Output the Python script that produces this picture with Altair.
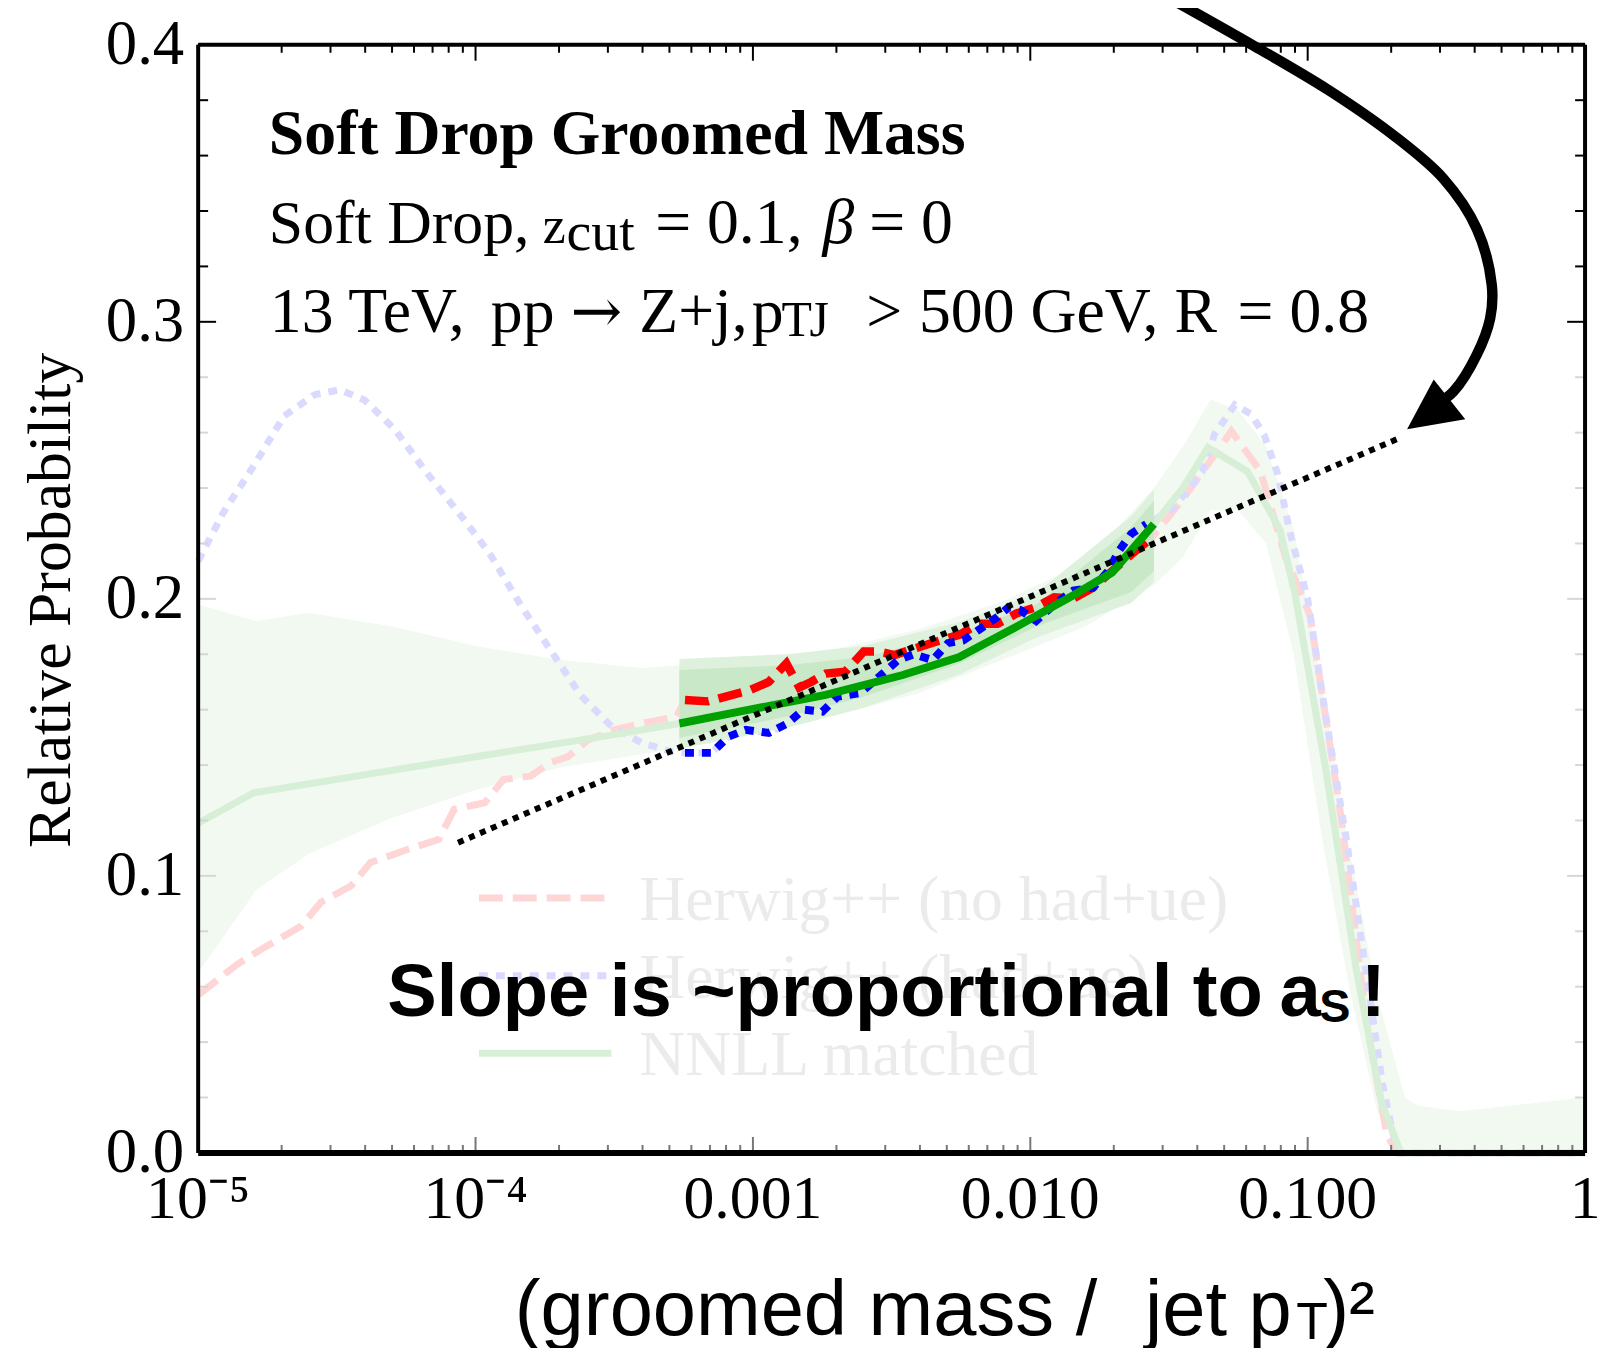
import altair as alt
import pandas as pd

# ---------------- data ----------------
RED_X = [1.0e-5, 1.38e-5, 1.72e-5, 2.36e-5, 2.77e-5, 3.56e-5, 4.18e-5, 5.71e-5, 7.38e-5, 8.37e-5,
         1.08e-4, 1.26e-4, 1.58e-4, 1.85e-4, 2.16e-4, 2.54e-4, 3.16e-4, 3.94e-4, 5.3e-4,
         5.69e-4, 6.89e-4, 9.72e-4, 1.14e-3, 1.32e-3, 1.47e-3, 1.62e-3, 1.83e-3, 2.15e-3, 2.51e-3,
         2.85e-3, 3.24e-3, 3.80e-3, 4.72e-3, 5.55e-3, 6.50e-3, 7.62e-3, 8.91e-3, 1.05e-2, 1.22e-2,
         1.43e-2, 1.68e-2, 1.97e-2, 2.31e-2, 2.74e-2,
         3.55e-2, 4.47e-2, 5.31e-2, 6.76e-2, 8.32e-2, 0.102, 0.132, 0.163, 0.193, 0.210, 1.0]
RED_Y = [0.057, 0.068, 0.074, 0.082, 0.0905, 0.0964, 0.1048, 0.1096, 0.1132, 0.124,
         0.1264, 0.1348, 0.136, 0.1408, 0.1431, 0.149, 0.1527, 0.155, 0.1575,
         0.1635, 0.163, 0.167, 0.170, 0.1767, 0.168, 0.170, 0.173, 0.1737, 0.181,
         0.181, 0.1797, 0.182, 0.185, 0.187, 0.191, 0.191, 0.1947, 0.197, 0.2006,
         0.2001, 0.204, 0.210, 0.216, 0.222,
         0.236, 0.250, 0.2606, 0.246, 0.215, 0.194, 0.121, 0.047, 0.0066, 0.0, 0.0]

BLUE_X = [1.0e-5, 1.23e-5, 1.585e-5, 2.04e-5, 2.63e-5, 3.24e-5, 3.98e-5, 5.13e-5, 6.61e-5, 8.71e-5,
          1.12e-4, 1.45e-4, 1.86e-4, 2.40e-4, 3.09e-4, 3.98e-4, 5.13e-4,
          5.69e-4, 7.10e-4, 8.18e-4, 9.42e-4, 1.14e-3, 1.33e-3, 1.52e-3, 1.78e-3, 2.02e-3, 2.44e-3,
          2.85e-3, 3.34e-3, 3.80e-3, 4.45e-3, 5.05e-3, 5.73e-3, 6.50e-3, 7.62e-3, 8.36e-3, 9.20e-3,
          1.05e-2, 1.22e-2, 1.43e-2, 1.68e-2, 1.91e-2, 2.09e-2, 2.31e-2, 2.62e-2,
          3.24e-2, 4.17e-2, 4.62e-2, 5.46e-2, 6.25e-2, 6.98e-2, 7.80e-2, 8.63e-2, 0.1, 0.116,
          0.138, 0.162, 0.186, 0.207, 0.219, 1.0]
BLUE_Y = [0.2136, 0.231, 0.248, 0.266, 0.2737, 0.2755, 0.2718, 0.261, 0.246, 0.231,
          0.2166, 0.198, 0.1816, 0.165, 0.154, 0.148, 0.1447,
          0.1444, 0.1444, 0.1503, 0.1527, 0.1516, 0.155, 0.160, 0.1593, 0.1647, 0.166,
          0.1719, 0.1779, 0.180, 0.1779, 0.184, 0.185, 0.1887, 0.1935, 0.197, 0.196,
          0.192, 0.198, 0.203, 0.204, 0.210, 0.2174, 0.2234, 0.227,
          0.232, 0.246, 0.2595, 0.270, 0.2667, 0.259, 0.245, 0.224, 0.200, 0.158,
          0.113, 0.066, 0.025, 0.003, 0.0, 0.0]

GREEN_X = [1.0e-5, 1.585e-5, 1.0e-4, 3.16e-4, 5.43e-4, 9.72e-4, 1.83e-3, 3.47e-3, 5.55e-3,
           8.91e-3, 1.43e-2, 1.97e-2, 2.79e-2, 3.55e-2, 4.37e-2, 6.07e-2, 7.94e-2, 8.99e-2,
           0.116, 0.150, 0.185, 0.217, 1.0]
GREEN_Y = [0.119, 0.130, 0.143, 0.151, 0.155, 0.160, 0.1653, 0.1725, 0.179,
           0.1899, 0.2013, 0.2095, 0.227, 0.240, 0.2546, 0.246, 0.225, 0.202,
           0.139, 0.0656, 0.0177, 0.0, 0.0]

# wide (faint) NNLL uncertainty band
BAND_X = [1.0e-5, 1.62e-5, 2.51e-5, 5.01e-5, 1.0e-4, 2.0e-4, 3.98e-4, 5.43e-4, 1.0e-3, 2.0e-3,
          3.98e-3, 7.94e-3, 1.58e-2, 2.79e-2, 3.55e-2, 4.47e-2, 5.62e-2, 7.08e-2, 8.91e-2,
          0.112, 0.141, 0.178, 0.224, 0.251, 0.355, 1.0]
BAND_LO = [0.065, 0.095, 0.108, 0.121, 0.131, 0.139, 0.144, 0.146, 0.152, 0.158,
           0.166, 0.178, 0.190, 0.205, 0.215, 0.232, 0.232, 0.220, 0.180,
           0.115, 0.060, 0.015, 0.0, 0.0, 0.0, 0.0]
BAND_HI = [0.198, 0.192, 0.195, 0.190, 0.183, 0.178, 0.175, 0.176, 0.178, 0.182,
           0.189, 0.199, 0.213, 0.240, 0.255, 0.272, 0.268, 0.255, 0.225,
           0.170, 0.110, 0.057, 0.020, 0.017, 0.015, 0.020]

# highlighted band segment
CORE_X = [5.43e-4, 1.33e-3, 2.51e-3, 5.55e-3, 1.05e-2, 2.31e-2, 2.79e-2]
CORE_LO = [0.1499, 0.1575, 0.1647, 0.1767, 0.190, 0.2025, 0.210]
CORE_HI = [0.1743, 0.176, 0.179, 0.1876, 0.198, 0.2258, 0.2354]

BOLD_LO, BOLD_HI = 5.4e-4, 2.8e-2

FIT_X = [8.65e-5, 0.216]
FIT_Y = [0.112, 0.2582]

ARROW_X = [3.41e-2, 6.43e-2, 0.1178, 0.2046, 0.309, 0.407, 0.461, 0.455, 0.407, 0.336, 0.292]
ARROW_Y = [0.4151, 0.3995, 0.3839, 0.3672, 0.3516, 0.3336, 0.3133, 0.3013, 0.2881, 0.2749, 0.2702]
HEAD_X, HEAD_Y = [0.2887], [0.2684]

XTICK_VALUES = [1e-5, 1e-4, 1e-3, 1e-2, 1e-1, 1.0]
XTICK_LABELS = ["10\u207b\u2075", "10\u207b\u2074", "0.001", "0.010", "0.100", "1"]
YTICK_VALUES = [0.0, 0.1, 0.2, 0.3, 0.4]
YTICK_LABELS = ["0.0", "0.1", "0.2", "0.3", "0.4"]
LEGEND_LABELS = ["Herwig++ (no had+ue)", "Herwig++ (had+ue)", "NNLL matched"]

# ---------------- layout ----------------
W, H = 1393, 1113
SERIF = "Liberation Serif"
SANS = "Liberation Sans"
xs = alt.Scale(type="log", domain=[1e-5, 1])
ys = alt.Scale(domain=[0, 0.4])


def X(f="x"):
    return alt.X(f"{f}:Q", scale=xs, axis=None)


def Y(f="y"):
    return alt.Y(f"{f}:Q", scale=ys, axis=None)


def series(xv, yv):
    return pd.DataFrame({"x": xv, "y": yv})


def bold_part(df):
    return df[(df.x >= BOLD_LO) & (df.x <= BOLD_HI)]


red = series(RED_X, RED_Y)
blue = series(BLUE_X, BLUE_Y)
green = series(GREEN_X, GREEN_Y)

band = alt.Chart(pd.DataFrame({"x": BAND_X, "lo": BAND_LO, "hi": BAND_HI})).mark_area(
    color="#f1f9f1").encode(x=X(), y=Y("lo"), y2="hi:Q")

core = pd.DataFrame({"x": CORE_X, "lo": CORE_LO, "hi": CORE_HI})
core_outer = alt.Chart(core).transform_calculate(
    lo2="datum.lo - 0.004", hi2="datum.hi + 0.004").mark_area(color="#ddf1dd").encode(
    x=X(), y=Y("lo2"), y2="hi2:Q")
core_inner = alt.Chart(core).mark_area(color="#c8e8c8").encode(x=X(), y=Y("lo"), y2="hi:Q")

faded_red = alt.Chart(red).mark_line(color="#ffd6d6", strokeWidth=7, strokeDash=[24, 10]).encode(x=X(), y=Y())
faded_blue = alt.Chart(blue).mark_line(color="#dadaff", strokeWidth=7, strokeDash=[9, 8]).encode(x=X(), y=Y())
faded_green = alt.Chart(green).mark_line(color="#d6efd6", strokeWidth=7).encode(x=X(), y=Y())

bold_red = alt.Chart(bold_part(red)).mark_line(color="#ff0000", strokeWidth=8.5, strokeDash=[24, 10]).encode(x=X(), y=Y())
bold_blue = alt.Chart(bold_part(blue)).mark_line(color="#0000ff", strokeWidth=8, strokeDash=[9, 8]).encode(x=X(), y=Y())
bold_green = alt.Chart(bold_part(green)).mark_line(color="#00a000", strokeWidth=8).encode(x=X(), y=Y())

fit = alt.Chart(series(FIT_X, FIT_Y)).mark_line(color="black", strokeWidth=6, strokeDash=[6, 6]).encode(x=X(), y=Y())

arrow = alt.Chart(pd.DataFrame({"x": ARROW_X, "y": ARROW_Y, "i": list(range(len(ARROW_X)))})).mark_line(
    color="black", strokeWidth=10.5, interpolate="catmull-rom", clip=False).encode(
    x=X(), y=Y(), order="i:Q")
head = alt.Chart(series(HEAD_X, HEAD_Y)).mark_point(
    shape="M -0.947 0.667 L -0.057 -1 L 1 0.333 Z", size=3600, filled=True, color="black",
    opacity=1, strokeWidth=0, clip=False).encode(x=X(), y=Y())

# ---------------- ticks, tick labels & frame ----------------
x_minor = [m * 10.0 ** e for e in range(-5, 0) for m in range(2, 10)]
y_minor = [round(0.02 * k, 2) for k in range(1, 20) if k % 5 != 0]
one = pd.DataFrame({"a": [0]})


def xticks(vals, length, top, color):
    d = pd.DataFrame({"v": vals})
    if top:
        return alt.Chart(d).mark_rule(strokeWidth=2, color=color).encode(
            x=X("v"), y=alt.value(0), y2=alt.value(length))
    return alt.Chart(d).mark_rule(strokeWidth=2, color=color).encode(
        x=X("v"), y=alt.value(H), y2=alt.value(H - length))


def yticks(vals, length, right):
    d = pd.DataFrame({"v": vals})
    col = alt.condition("datum.v < 0.29", alt.value("#d6d6d6"), alt.value("black"))
    if right:
        return alt.Chart(d).mark_rule(strokeWidth=2).encode(
            y=Y("v"), x=alt.value(W), x2=alt.value(W - length), color=col)
    return alt.Chart(d).mark_rule(strokeWidth=2).encode(
        y=Y("v"), x=alt.value(0), x2=alt.value(length), color=col)


ticks = [
    xticks(XTICK_VALUES, 16, True, "black"), xticks(x_minor, 8, True, "black"),
    xticks(XTICK_VALUES, 16, False, "#777777"), xticks(x_minor, 8, False, "#777777"),
    yticks(YTICK_VALUES, 18, False), yticks(y_minor, 10, False),
    yticks(YTICK_VALUES, 18, True), yticks(y_minor, 10, True),
]

xlabels = alt.Chart(pd.DataFrame({"v": XTICK_VALUES, "t": XTICK_LABELS})).mark_text(
    font=SERIF, fontSize=62, color="black", align="center", baseline="alphabetic").encode(
    x=X("v"), y=alt.value(H + 65), text="t:N")
ylabels = alt.Chart(pd.DataFrame({"v": YTICK_VALUES, "t": YTICK_LABELS})).mark_text(
    font=SERIF, fontSize=63, color="black", align="right", baseline="middle").encode(
    y=Y("v"), x=alt.value(-14), text="t:N")

frame = [
    alt.Chart(one).mark_rule(color="black", strokeWidth=4).encode(x=alt.value(0), x2=alt.value(W), y=alt.value(0)),
    alt.Chart(one).mark_rule(color="black", strokeWidth=6).encode(x=alt.value(0), x2=alt.value(W), y=alt.value(H)),
    alt.Chart(one).mark_rule(color="black", strokeWidth=4).encode(x=alt.value(0), y=alt.value(0), y2=alt.value(H)),
    alt.Chart(one).mark_rule(color="black", strokeWidth=4).encode(x=alt.value(W), y=alt.value(0), y2=alt.value(H)),
]


# ---------------- text ----------------
def txt(s, x, y, size, font=SERIF, weight="normal", style="normal", color="black",
        align="left", baseline="alphabetic", angle=0):
    return alt.Chart(pd.DataFrame({"t": [s]})).mark_text(
        font=font, fontSize=size, fontWeight=weight, fontStyle=style, color=color,
        align=align, baseline=baseline, angle=angle).encode(
        text="t:N", x=alt.value(x), y=alt.value(y))


LEG_COL = "#ebebeb"
legend = [
    alt.Chart(one).mark_rule(color="#ffd6d6", strokeWidth=7, strokeDash=[24, 10]).encode(
        x=alt.value(282), x2=alt.value(415), y=alt.value(857)),
    alt.Chart(one).mark_rule(color="#dadaff", strokeWidth=7, strokeDash=[9, 8]).encode(
        x=alt.value(282), x2=alt.value(415), y=alt.value(935)),
    alt.Chart(one).mark_rule(color="#d6efd6", strokeWidth=7).encode(
        x=alt.value(282), x2=alt.value(415), y=alt.value(1013)),
    txt(LEGEND_LABELS[0], 443, 879, 64, color=LEG_COL),
    txt(LEGEND_LABELS[1], 443, 957, 64, color=LEG_COL),
    txt(LEGEND_LABELS[2], 443, 1035, 64, color=LEG_COL),
]

L2, L3 = 199, 288
texts = [
    txt("Soft Drop Groomed Mass", 71, 110, 64, weight="bold"),
    txt("Soft Drop,", 71, L2, 62),
    txt("z", 346, L2, 52),
    txt("cut", 370, L2 + 7, 56),
    txt("= 0.1,", 459, L2, 64),
    txt("\u03b2", 627, L2, 64, style="italic"),
    txt("= 0", 674, L2, 64),
    txt("13 TeV,", 72, L3, 64),
    txt("pp", 294, L3, 64),
    txt("\u2192", 374, L3, 62, font="DejaVu Serif"),
    txt("Z+j,", 443, L3, 64),
    txt("p", 556, L3, 64),
    txt("T", 586, L3 + 4, 50),
    txt("J", 614, L3 + 4, 50),
    txt(">", 671, L3, 64),
    txt("500 GeV, R", 724, L3, 64),
    txt("= 0.8", 1044, L3, 64),
    txt("Slope is ~proportional to", 190, 975, 74.5, font=SANS, weight="bold"),
    txt("a", 1086, 975, 74.5, font=SANS, weight="bold"),
    txt("S", 1126, 982, 47, font=SANS, weight="bold"),
    txt("!", 1168, 975, 74.5, font=SANS, weight="bold"),
    txt("Relative Probability", -129, 558, 62, align="center", angle=270),
    txt("(groomed mass /", 318, 1296, 78, font=SANS),
    txt("jet p", 951, 1296, 78, font=SANS),
    txt("T", 1103, 1300, 52, font=SANS),
    txt(")\u00b2", 1130, 1296, 78, font=SANS),
]

chart = alt.layer(
    band, faded_red, faded_blue, faded_green, *legend,
    core_outer, core_inner, bold_red, bold_blue, bold_green, fit,
    *ticks, *frame, xlabels, ylabels, arrow, head, *texts,
).properties(
    width=W, height=H,
    padding={"left": 191, "top": 34, "right": 12, "bottom": 193},
    autosize=alt.AutoSizeParams(type="none"),
).configure_view(stroke=None).configure(background="white")

chart.save("out.html", embed_options={"renderer": "svg", "actions": False})
